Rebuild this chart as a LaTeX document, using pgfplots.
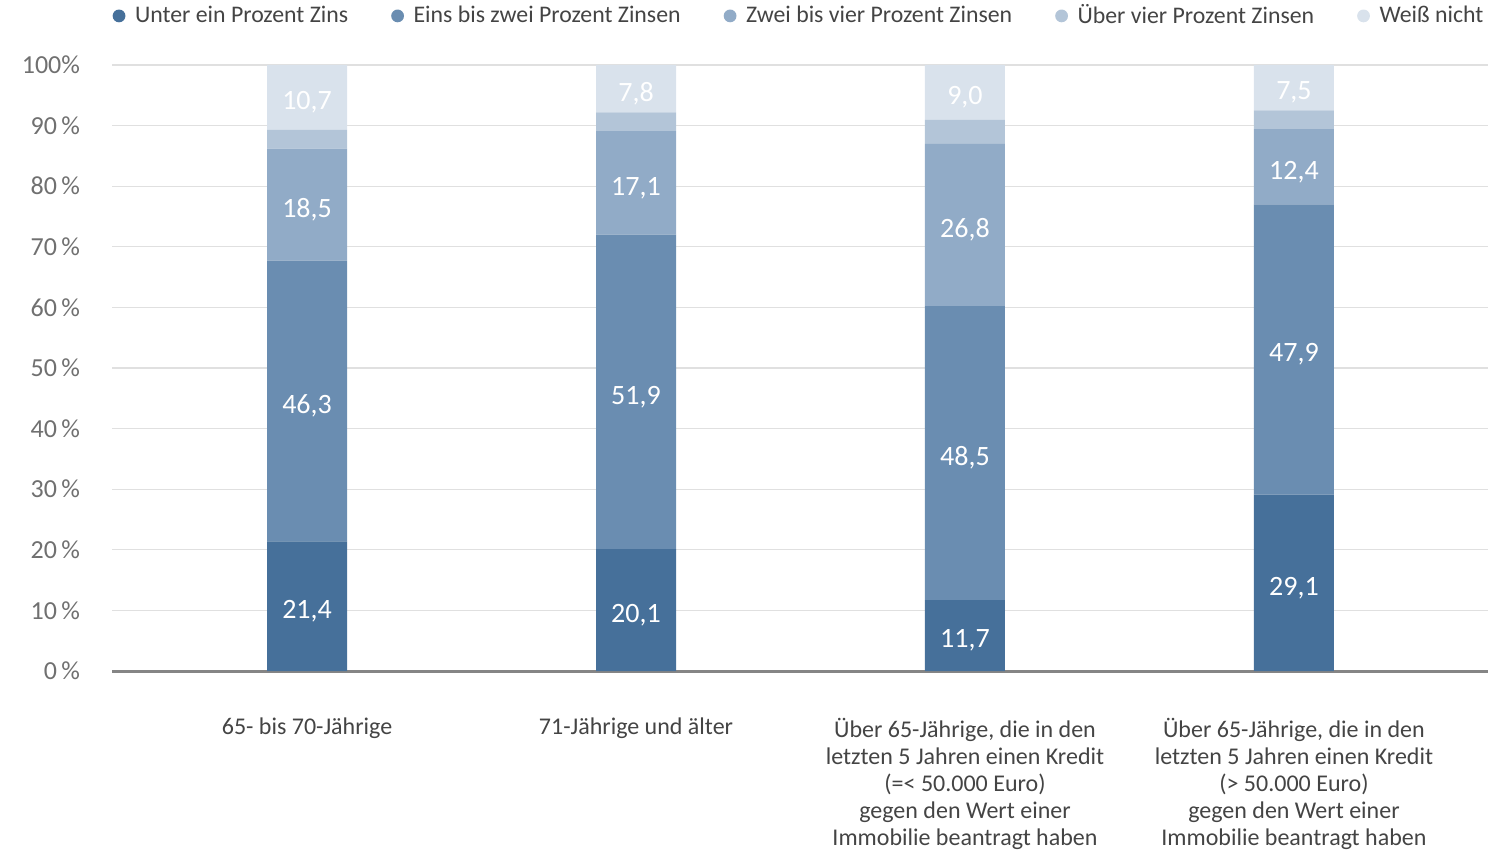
\documentclass[border=0pt]{standalone}
\usepackage{pgfplots}
\pgfplotsset{compat=1.18}
\usepackage{pgfplotstable}
\usepackage{fontspec}
\setmainfont{Carlito}
\definecolor{c1}{HTML}{46709A}
\definecolor{c2}{HTML}{6A8DB1}
\definecolor{c3}{HTML}{91ABC7}
\definecolor{c4}{HTML}{B3C5D8}
\definecolor{c5}{HTML}{D9E2EC}
\definecolor{txt}{HTML}{444444}
\definecolor{tickc}{HTML}{707070}
\pgfplotstableread{
x u e z v w
0 21.4 46.3 18.5 3.1 10.7
1 20.1 51.9 17.1 3.1 7.8
2 11.7 48.5 26.8 4.0 9.0
3 29.1 47.9 12.4 3.1 7.5
}\data
\pgfplotsset{
  lbl/.style={
    nodes near coords={\pgfmathprintnumber[fixed,fixed zerofill,precision=1,use comma,assume math mode=true]{\pgfplotspointmeta}},
    point meta=explicit,
    every node near coord/.append style={text=white, font=\fontsize{14bp}{16bp}\selectfont, anchor=center, yshift=-2.5bp}
  }
}
\begin{document}
\begin{tikzpicture}
\useasboundingbox (-56bp,-89.5bp) rectangle (692bp,335.5bp);
\begin{axis}[
  at={(0,0)}, anchor=south west,
  scale only axis, width=688bp, height=303bp,
  ybar stacked, bar width=40bp,
  xmin=-0.593, xmax=3.59, ymin=0, ymax=100,
  axis line style={draw=none},
  major tick length=0pt,
  ymajorgrids, grid style={color=black!12, line width=0.6bp},
  extra y ticks={0}, extra y tick labels={},
  extra y tick style={grid style={color=black!48, line width=1.5bp}},
  ytick={0,10,...,100},
  yticklabels={0\,\%,10\,\%,20\,\%,30\,\%,40\,\%,50\,\%,60\,\%,70\,\%,80\,\%,90\,\%,100\%},
  yticklabel style={font=\fontsize{13bp}{15bp}\selectfont, text=tickc, anchor=east, xshift=-12.5bp},
  xtick=data,
  xticklabels={65- bis 70-Jährige, 71-Jährige und älter, {Über 65-Jährige, die in den\\letzten 5 Jahren einen Kredit\\(=< 50.000 Euro)\\gegen den Wert einer\\Immobilie beantragt haben}, {Über 65-Jährige, die in den\\letzten 5 Jahren einen Kredit\\(> 50.000 Euro)\\gegen den Wert einer\\Immobilie beantragt haben}},
  xticklabel style={font=\fontsize{12bp}{13.5bp}\selectfont, text=txt, align=center, anchor=north, yshift=-20bp},
  legend columns=5,
  legend style={at={(0.5,1.081)}, anchor=center, draw=none, fill=none, font=\fontsize{11.9bp}{13bp}\selectfont, text=txt,
    /tikz/every even column/.append style={column sep=19.5bp}},
  legend image code/.code={\fill[#1] (0bp,0bp) circle (3.2bp); \path (6bp,0bp);},
  clip=false,
]
\addplot[fill=c1, draw=none, lbl] table[x=x, y=u, meta=u] {\data};
\addplot[fill=c2, draw=none, lbl] table[x=x, y=e, meta=e] {\data};
\addplot[fill=c3, draw=none, lbl] table[x=x, y=z, meta=z] {\data};
\addplot[fill=c4, draw=none] table[x=x, y=v] {\data};
\addplot[fill=c5, draw=none, lbl] table[x=x, y=w, meta=w] {\data};
\legend{Unter ein Prozent Zins, Eins bis zwei Prozent Zinsen, Zwei bis vier Prozent Zinsen, Über vier Prozent Zinsen, Weiß nicht}
\end{axis}
\end{tikzpicture}
\end{document}
